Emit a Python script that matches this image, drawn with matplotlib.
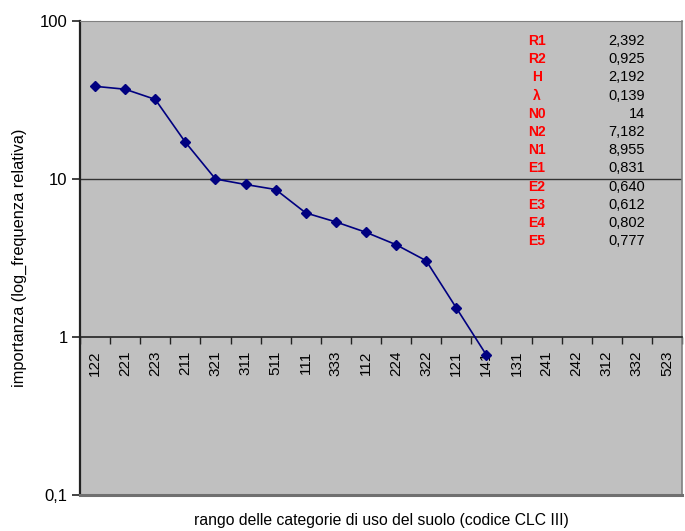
import matplotlib
matplotlib.use("Agg")
import matplotlib.pyplot as plt
from matplotlib.ticker import FixedLocator, FixedFormatter, NullLocator

plt.rcParams['font.family'] = ['Liberation Sans', 'DejaVu Sans']

# Land-use categories (CLC level III), ranked by relative frequency
categories = ["122", "221", "223", "211", "321", "311", "511", "111", "333", "112",
              "224", "322", "121", "141", "131", "241", "242", "312", "332", "523"]
importance = [38.6, 37.0, 31.9, 17.1, 10.0, 9.23, 8.58, 6.10, 5.35, 4.60,
              3.84, 3.04, 1.53, 0.77]

# Diversity indices
index_names = ["R1", "R2", "H", "λ", "N0", "N2", "N1", "E1", "E2", "E3", "E4", "E5"]
index_values = ["2,392", "0,925", "2,192", "0,139", "14", "7,182", "8,955",
                "0,831", "0,640", "0,612", "0,802", "0,777"]

y_ticks = [0.1, 1, 10, 100]
y_tick_labels = ["0,1", "1", "10", "100"]

fig = plt.figure(figsize=(6.85, 5.31), dpi=100)
ax = fig.add_axes([80 / 685, 36 / 531, 602 / 685, 474 / 531])
ax.set_facecolor("#c0c0c0")

ax.set_yscale("log")
ax.set_ylim(0.1, 100)
ax.set_xlim(-0.5, len(categories) - 0.5)

# horizontal gridline at 10
ax.axhline(10, color="#333333", lw=1.0, zorder=1)

x = list(range(len(importance)))
ax.plot(x, importance, color="#000080", lw=1.2, marker="D", markersize=5.5,
        markerfacecolor="#000080", markeredgecolor="#000080", zorder=3, clip_on=False)

# y axis
ax.yaxis.set_major_locator(FixedLocator(y_ticks))
ax.yaxis.set_major_formatter(FixedFormatter(y_tick_labels))
ax.yaxis.set_minor_locator(NullLocator())
ax.tick_params(axis="y", which="major", direction="out", length=6, width=1.2,
               labelsize=12, color="#222222", pad=3)

# x axis crosses at 1
ax.spines["bottom"].set_position(("data", 1))
ax.spines["bottom"].set_color("#222222")
ax.spines["bottom"].set_linewidth(1.2)
ax.spines["left"].set_color("#222222")
ax.spines["left"].set_linewidth(1.6)
ax.spines["top"].set_color("#808080")
ax.spines["right"].set_color("#808080")
ax.spines["right"].set_linewidth(1.2)

ax.xaxis.set_major_locator(FixedLocator(range(len(categories))))
ax.xaxis.set_major_formatter(FixedFormatter(categories))
ax.xaxis.set_minor_locator(FixedLocator([i + 0.5 for i in range(-1, len(categories))]))
ax.tick_params(axis="x", which="major", length=0, labelsize=11, labelrotation=90, pad=10)
ax.tick_params(axis="x", which="minor", direction="out", length=5, width=1.0, color="#222222")

# lower border of the plot area
ax.plot([0, 1], [0, 0], transform=ax.transAxes, color="#707070", lw=2.2,
        clip_on=False, zorder=4)

ax.set_ylabel("importanza (log_frequenza relativa)", fontsize=11.8, labelpad=9)
fig.text((80 + 682) / 2 / 685, 1 - 521 / 531,
         "rango delle categorie di uso del suolo (codice CLC III)",
         ha="center", va="center", fontsize=11.3)

# index table
n = len(index_names)
for i, (name, val) in enumerate(zip(index_names, index_values)):
    y = 1 - (41 + i * 18.2) / 531
    fig.text(537 / 685, y, name, color="#ff0000", fontweight="bold",
             ha="center", va="center", fontsize=10)
    fig.text(645 / 685, y, val, color="black", ha="right", va="center", fontsize=10.5)

fig.savefig("out.png", dpi=100)
